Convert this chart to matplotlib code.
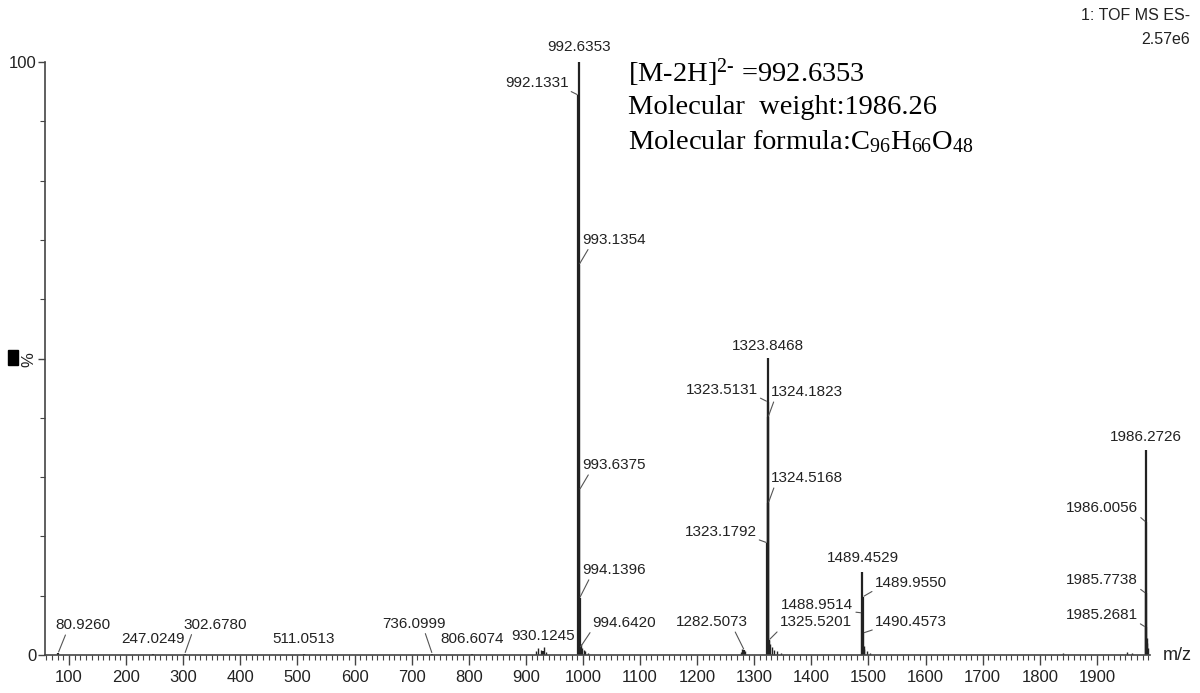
import matplotlib
matplotlib.use("Agg")
import matplotlib.pyplot as plt
from matplotlib import font_manager
from matplotlib.patches import Rectangle
from matplotlib.ticker import MultipleLocator

# labelled peaks: m/z and relative intensity (%)
peak_mz = [992.6353, 992.1331, 993.1354, 993.6375, 994.1396, 994.6420,
           1323.8468, 1323.5131, 1324.1823, 1324.5168, 1323.1792, 1325.5201,
           1282.5073, 1489.4529, 1489.9550, 1488.9514, 1490.4573,
           1986.2726, 1986.0056, 1985.7738, 1985.2681,
           80.9260, 247.0249, 302.6780, 511.0513, 736.0999, 806.6074, 930.1245]
peak_int = [100.0, 94.4, 65.8, 27.8, 9.6, 1.2,
            50.1, 42.7, 40.1, 25.6, 18.9, 2.5,
            0.8, 14.0, 9.8, 7.1, 3.7,
            34.6, 22.4, 10.4, 4.7,
            0.3, 0.1, 0.2, 0.1, 0.2, 0.2, 0.7]

# small unlabelled peaks along the baseline
minor_mz = [918, 922, 926, 931, 935, 996, 998, 1001, 1004, 1009,
            1276, 1279, 1284, 1326.5, 1328, 1331, 1335, 1340, 1346,
            1491.5, 1493, 1497, 1503, 1840, 1953, 1962, 1987.3, 1988.5, 1990]
minor_int = [0.6, 1.1, 0.9, 1.3, 0.5, 1.8, 1.2, 0.9, 0.6, 0.4,
             0.5, 1.0, 0.7, 2.6, 1.9, 1.3, 0.9, 0.6, 0.4,
             1.6, 1.0, 0.6, 0.3, 0.3, 0.5, 0.4, 2.8, 2.0, 1.2]

x_ticks = list(range(100, 2000, 100))
y_ticks = [0, 50, 100]
y_ticklabels = ["0", "%", "100"]

# label placement (pixel offset from peak top, alignment, leader start)
label_pos = [(0, 15, "center", None), (-10, 12, "right", (1, 0)),
             (3, 25, "left", (0.12, 0)), (3, 25, "left", (0.12, 0)),
             (3, 28, "left", (0.12, 0)), (12, 25, "left", (0, 0)),
             (0, 12, "center", None), (-10, 12, "right", (1, 0)),
             (3, 25, "left", (0.05, 0)), (3, 25, "left", (0.05, 0)),
             (-11, 11, "right", (1, 0)), (11, 18, "left", (0, 0)),
             (-32, 28, "center", (0.8, 0)), (0, 14, "center", None),
             (12, 14, "left", (0, 0)), (-9, 8, "right", (1, 0)),
             (12, 11, "left", (0, 0)),
             (0, 13, "center", None), (-8, 14, "right", (1, 0)),
             (-8, 13, "right", (1, 0)), (-8, 12, "right", (1, 0)),
             (25, 28, "center", (0.2, 0)), (0, 15, "center", None),
             (30, 29, "center", (0.15, 0)), (0, 15, "center", None),
             (-18, 30, "center", (0.66, 0)), (0, 15, "center", None),
             (0, 15, "center", None)]

names = {f.name for f in font_manager.fontManager.ttflist}
if "Liberation Sans Narrow" in names:
    sans, lsize = "Liberation Sans Narrow", 13
else:
    sans, lsize = "Liberation Sans", 11

plt.rcParams["font.family"] = [sans, "DejaVu Sans"]
plt.rcParams["mathtext.fontset"] = "custom"
plt.rcParams["mathtext.rm"] = "Liberation Serif"
plt.rcParams["mathtext.it"] = "Liberation Serif:italic"

W, H = 1200, 693
fig = plt.figure(figsize=(12, 6.93), dpi=100)
ax = fig.add_axes([45 / W, 38 / H, 1105 / W, 593 / H])

ink = "#222222"
ax.vlines(minor_mz, 0, minor_int, color=ink, lw=1.0)
ax.vlines(peak_mz, 0, peak_int, color=ink, lw=1.6)

for mz, h, (dx, dy, ha, rel) in zip(peak_mz, peak_int, label_pos):
    kw = {}
    if rel is not None:
        kw["arrowprops"] = dict(arrowstyle="-", lw=0.8, color="#555555",
                                relpos=rel, shrinkA=0, shrinkB=1)
    ax.annotate(f"{mz:.4f}", xy=(mz, h), xytext=(dx, dy),
                textcoords="offset pixels", ha=ha, va="center",
                fontsize=lsize, color=ink, annotation_clip=False, **kw)

ax.set_xlim(58, 1993)
ax.set_ylim(0, 100)
ax.set_xticks(x_ticks)
ax.xaxis.set_minor_locator(MultipleLocator(10))
ax.set_yticks(y_ticks)
ax.set_yticklabels(y_ticklabels)
ax.yaxis.set_minor_locator(MultipleLocator(10))
pct = ax.get_yticklabels()[1]
pct.set_rotation(90)
pct.set_fontsize(13)
ax.tick_params(axis="x", which="major", length=7, width=1, color="#444444",
               labelsize=lsize + 1, labelcolor=ink, pad=4)
ax.tick_params(axis="y", which="major", length=5, width=1, color="#444444",
               labelsize=lsize + 1, labelcolor=ink, pad=1)
ax.tick_params(axis="both", which="minor", length=3.5, width=0.8, color="#444444")
for s in ["top", "right"]:
    ax.spines[s].set_visible(False)
for s in ["left", "bottom"]:
    ax.spines[s].set_color("#444444")
    ax.spines[s].set_linewidth(1.2)

fig.text(1163 / W, 1 - 655 / H, "m/z", va="center", fontsize=lsize + 2, color=ink)
fig.text(1190 / W, 1 - 15 / H, "1: TOF MS ES-", ha="right", va="center",
         fontsize=lsize + 0.5, color=ink)
fig.text(1190 / W, 1 - 40 / H, "2.57e6", ha="right", va="center",
         fontsize=lsize + 0.5, color=ink)
fig.patches.append(Rectangle((8 / W, 1 - 365 / H), 10 / W, 15 / H,
                             transform=fig.transFigure, color="black"))

serif = dict(fontsize=20.5, family="Liberation Serif", color="black", va="center")
fig.text(628 / W, 1 - 73 / H, r"[M-2H]$^{\mathrm{2}\text{-}}$ =992.6353", **serif)
fig.text(628 / W, 1 - 107 / H, "Molecular  weight:1986.26", **serif)
fig.text(628 / W, 1 - 142 / H,
         r"Molecular formula:C$_{\mathrm{96}}$H$_{\mathrm{66}}$O$_{\mathrm{48}}$", **serif)

fig.savefig("out.png", dpi=100)
